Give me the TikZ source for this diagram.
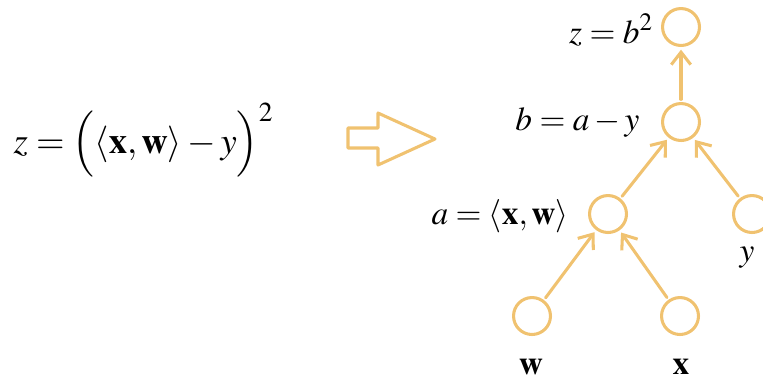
\documentclass[tikz,border=0pt]{standalone}
\usepackage{mathptmx}
\usetikzlibrary{arrows.meta}
\definecolor{gorange}{RGB}{240,194,112}
\begin{document}
\begin{tikzpicture}[x=0.36pt, y=-0.36pt, line join=round, line cap=round,
    >={Straight Barb[length=4.5pt, width=7pt]},
    vert/.style={circle, draw=gorange, line width=1.1pt, minimum size=13.3pt, inner sep=0pt, outer sep=1.5pt},
    edge/.style={->, draw=gorange, line width=1.1pt},
    lbl/.style={font=\large, inner sep=0pt}]
	\useasboundingbox (0,0) rectangle (763,383);
	% original expression and hollow arrow
	\node[lbl, anchor=west, scale=1.1] (expr) at (13,140) {$z = \Big(\langle \mathbf{x}, \mathbf{w}\rangle - y\Big)^2$};
	\draw[gorange, line width=1.1pt] (348,128) -- (378,128) -- (378,113) -- (435,139) -- (378,165) -- (378,148) -- (348,148) -- cycle;
	% computational graph
	\node[vert] (z) at (681,27) {};
	\node[vert] (b) at (681,122) {};
	\node[vert] (a) at (608,214) {};
	\node[vert] (y) at (752,214) {};
	\node[vert] (w) at (532,316) {};
	\node[vert] (x) at (680,316) {};
	\node[lbl, anchor=east] (zl) at (654,30) {$z = b^2$};
	\node[lbl, anchor=east] (bl) at (640,122) {$b = a - y$};
	\node[lbl, anchor=east] (al) at (569,216) {$a = \langle \mathbf{x}, \mathbf{w}\rangle$};
	\node[lbl] (yl) at (747,258) {$y$};
	\node[lbl] (wl) at (531,367) {$\mathbf{w}$};
	\node[lbl] (xl) at (681,367) {$\mathbf{x}$};
	\draw[edge] (w) -- (a);
	\draw[edge] (x) -- (a);
	\draw[edge] (a) -- (b);
	\draw[edge] (y) -- (b);
	\draw[edge] (b) -- (z);
\end{tikzpicture}
\end{document}
